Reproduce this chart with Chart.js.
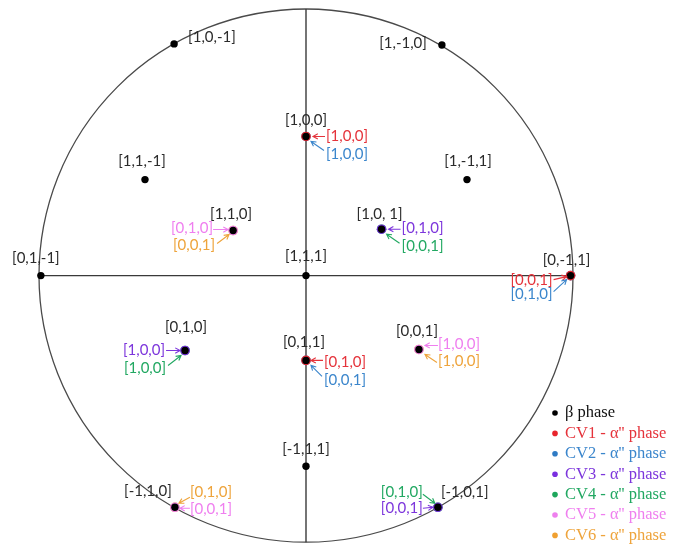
<!DOCTYPE html>
<html>
<head>
<meta charset="utf-8">
<title>β / α'' stereographic projection</title>
<script src="https://cdn.jsdelivr.net/npm/chart.js@4/dist/chart.umd.min.js"></script>
<style>
  html, body { margin: 0; padding: 0; background: #ffffff; }
  #wrap { width: 674px; height: 547px; }
</style>
</head>
<body>
<div id="wrap"><canvas id="chart" width="674" height="547"></canvas></div>
<script>
// ---- β phase poles (projection coordinates, unit circle = primitive) ----
const poleLabels = ['[1,0,-1]', '[1,-1,0]', '[1,0,0]', '[1,1,-1]', '[1,-1,1]', '[1,1,0]', '[1,0, 1]', '[0,1,-1]',
                    '[1,1,1]', '[0,-1,1]', '[0,1,0]', '[0,1,1]', '[0,0,1]', '[-1,1,1]', '[-1,1,0]', '[-1,0,1]'];
const poleX = [-0.494, 0.509, 0.000, -0.603, 0.603, -0.273, 0.283, -0.993,
                0.000, 0.991, -0.453, 0.000, 0.423, 0.000, -0.491, 0.494];
const poleY = [ 0.869, 0.865, 0.522, 0.360, 0.360, 0.169, 0.174, 0.000,
                0.000, 0.000, -0.281, -0.318, -0.277, -0.715, -0.869, -0.869];

// ---- α'' correspondence variants: β pole and the parallel α'' direction ----
const cv1Poles = ['[1,0,0]', '[0,-1,1]', '[0,1,1]'];
const cv1Dirs  = ['[1,0,0]', '[0,0,1]', '[0,1,0]'];
const cv2Poles = ['[1,0,0]', '[0,-1,1]', '[0,1,1]'];
const cv2Dirs  = ['[1,0,0]', '[0,1,0]', '[0,0,1]'];
const cv3Poles = ['[1,0, 1]', '[0,1,0]', '[-1,0,1]'];
const cv3Dirs  = ['[0,1,0]', '[1,0,0]', '[0,0,1]'];
const cv4Poles = ['[1,0, 1]', '[0,1,0]', '[-1,0,1]'];
const cv4Dirs  = ['[0,0,1]', '[1,0,0]', '[0,1,0]'];
const cv5Poles = ['[1,1,0]', '[0,0,1]', '[-1,1,0]'];
const cv5Dirs  = ['[0,1,0]', '[1,0,0]', '[0,0,1]'];
const cv6Poles = ['[1,1,0]', '[0,0,1]', '[-1,1,0]'];
const cv6Dirs  = ['[0,0,1]', '[1,0,0]', '[0,1,0]'];

const seriesNames = ['β phase', "CV1 - α'' phase", "CV2 - α'' phase", "CV3 - α'' phase",
                     "CV4 - α'' phase", "CV5 - α'' phase", "CV6 - α'' phase"];
const axisExtent = [-1, 1];

// ---- styling ----
const markColors = ['#000000', '#e8242c', '#2f7bc4', '#7a2ee0', '#1ea75c', '#ee80ee', '#f0a030'];
const textColors = ['#111111', '#e5333b', '#3b86cc', '#7d36dc', '#22a862', '#ef7fef', '#eea43c'];
const labelFont = '15px Lato, "Liberation Sans", sans-serif';
const legendFont = '16.5px "Liberation Serif", "DejaVu Serif", serif';

// pixel offsets of the black pole labels from their pole: [align, dx, dy]
const poleLabelPos = {
  '[1,0,-1]': ['left', 14, -7],   '[1,-1,0]': ['right', -15, -2], '[1,0,0]': ['center', 0, -16],
  '[1,1,-1]': ['center', -3, -18], '[1,-1,1]': ['center', 1, -18], '[1,1,0]': ['center', -2, -16],
  '[1,0, 1]': ['center', -2, -15], '[0,1,-1]': ['center', -5, -17], '[1,1,1]': ['center', 0, -19],
  '[0,-1,1]': ['center', -4, -15], '[0,1,0]': ['center', 1, -23], '[0,1,1]': ['center', -2, -18],
  '[0,0,1]': ['center', -2, -18], '[-1,1,1]': ['center', 0, -17], '[-1,1,0]': ['center', -27, -16],
  '[-1,0,1]': ['left', 3, -15]
};

// callout placement per variant and pole: [align, textDx, textDy, tailDx, tailDy, tipDx, tipDy]
const calloutPos = [
  null,
  { '[1,0,0]': ['left', 20, 0, 19, 0, 7, 0], '[0,-1,1]': ['right', -18, 5, -17, 4, -4, 1], '[0,1,1]': ['left', 18, 2, 17, 0, 5, 0] },
  { '[1,0,0]': ['left', 20, 18, 18, 14, 5, 5], '[0,-1,1]': ['right', -18, 19, -17, 16, -4, 4], '[0,1,1]': ['left', 18, 20, 16, 16, 5, 5] },
  { '[1,0, 1]': ['left', 20, -1, 19, 0, 7, 0], '[0,1,0]': ['right', -20, 0, -19, 0, -5, 0], '[-1,0,1]': ['right', -15, 1, -15, 1, -5, 0] },
  { '[1,0, 1]': ['left', 20, 17, 18, 14, 5, 5], '[0,1,0]': ['right', -19, 18, -17, 15, -4, 5], '[-1,0,1]': ['right', -15, -15, -15, -13, -3, -4] },
  { '[1,1,0]': ['right', -20, -2, -20, -1, -5, -1], '[0,0,1]': ['left', 19, -5, 19, -4, 6, -4], '[-1,1,0]': ['left', 15, 2, 15, 1, 5, 1] },
  { '[1,1,0]': ['right', -18, 15, -16, 13, -4, 4], '[0,0,1]': ['left', 19, 12, 18, 13, 6, 5], '[-1,1,0]': ['left', 15, -15, 15, -10, 4, -4] }
];

// ---- datasets ----
const cvPoles = [cv1Poles, cv2Poles, cv3Poles, cv4Poles, cv5Poles, cv6Poles];
const cvDirs  = [cv1Dirs, cv2Dirs, cv3Dirs, cv4Dirs, cv5Dirs, cv6Dirs];

function polePoint(label) {
  const i = poleLabels.indexOf(label);
  return { x: poleX[i], y: poleY[i], pole: label };
}

const datasets = [{
  label: seriesNames[0],
  data: poleLabels.map(polePoint),
  backgroundColor: markColors[0],
  borderColor: markColors[0],
  pointRadius: 3.7,
  borderWidth: 0,
  clip: false,
  order: 0
}];
cvPoles.forEach((poles, k) => {
  datasets.push({
    label: seriesNames[k + 1],
    data: poles.map((p, j) => Object.assign(polePoint(p), { dir: cvDirs[k][j] })),
    backgroundColor: markColors[k + 1],
    borderColor: markColors[k + 1],
    pointRadius: 4.8,
    borderWidth: 0,
    clip: false,
    order: 1 + k
  });
});
// reference axes through the centre of the projection
datasets.push({
  label: 'axisH', type: 'line', showLine: true, data: [{ x: axisExtent[0], y: 0 }, { x: axisExtent[1], y: 0 }],
  borderColor: '#3a3a3a', borderWidth: 1.4, pointRadius: 0, clip: false, order: 20
});
datasets.push({
  label: 'axisV', type: 'line', showLine: true, data: [{ x: 0, y: axisExtent[0] }, { x: 0, y: axisExtent[1] }],
  borderColor: '#3a3a3a', borderWidth: 1.4, pointRadius: 0, clip: false, order: 20
});

// primitive circle of the projection, sized by the scales
const primitiveCircle = {
  id: 'primitiveCircle',
  beforeDatasetsDraw(chart) {
    const { ctx, scales: { x, y } } = chart;
    const cx = x.getPixelForValue(0), cy = y.getPixelForValue(0);
    const rx = x.getPixelForValue(1) - cx;
    const ry = cy - y.getPixelForValue(1);
    ctx.save();
    ctx.strokeStyle = '#4a4a4a';
    ctx.lineWidth = 1.3;
    ctx.beginPath();
    ctx.ellipse(cx, cy, rx, ry, 0, 0, Math.PI * 2);
    ctx.stroke();
    ctx.restore();
  }
};

function drawArrow(ctx, x0, y0, x1, y1, color) {
  const a = Math.atan2(y1 - y0, x1 - x0);
  const h = 5.5, w = 0.5;
  ctx.strokeStyle = color;
  ctx.lineWidth = 1.1;
  ctx.beginPath();
  ctx.moveTo(x0, y0);
  ctx.lineTo(x1, y1);
  ctx.moveTo(x1 - h * Math.cos(a - w), y1 - h * Math.sin(a - w));
  ctx.lineTo(x1, y1);
  ctx.lineTo(x1 - h * Math.cos(a + w), y1 - h * Math.sin(a + w));
  ctx.stroke();
}

// pole labels and α'' direction callouts
const poleAnnotations = {
  id: 'poleAnnotations',
  afterDatasetsDraw(chart) {
    const { ctx, scales: { x, y } } = chart;
    ctx.save();
    ctx.font = labelFont;
    ctx.textBaseline = 'middle';
    poleLabels.forEach((lab, i) => {
      const px = x.getPixelForValue(poleX[i]), py = y.getPixelForValue(poleY[i]);
      const [align, dx, dy] = poleLabelPos[lab];
      ctx.fillStyle = '#2b2b2b';
      ctx.textAlign = align;
      ctx.fillText(lab, px + dx, py + dy);
    });
    for (let k = 1; k <= 6; k++) {
      chart.data.datasets[k].data.forEach(pt => {
        const px = x.getPixelForValue(pt.x), py = y.getPixelForValue(pt.y);
        const [align, tdx, tdy, ax0, ay0, ax1, ay1] = calloutPos[k][pt.pole];
        ctx.fillStyle = textColors[k];
        ctx.textAlign = align;
        ctx.fillText(pt.dir, px + tdx, py + tdy);
        drawArrow(ctx, px + ax0, py + ay0, px + ax1, py + ay1, textColors[k]);
      });
    }
    ctx.restore();
  }
};

// legend in the lower right corner
const cornerLegend = {
  id: 'cornerLegend',
  afterDraw(chart) {
    const { ctx } = chart;
    const x0 = 555, y0 = 413, step = 20.4;
    ctx.save();
    ctx.font = legendFont;
    ctx.textBaseline = 'middle';
    ctx.textAlign = 'left';
    seriesNames.forEach((name, i) => {
      const yy = y0 + i * step;
      ctx.fillStyle = markColors[i];
      ctx.beginPath();
      ctx.arc(x0, yy, 2.8, 0, Math.PI * 2);
      ctx.fill();
      ctx.fillStyle = textColors[i];
      ctx.fillText(name, x0 + 10, yy);
    });
    ctx.restore();
  }
};

new Chart(document.getElementById('chart'), {
  type: 'scatter',
  data: { datasets },
  options: {
    responsive: false,
    animation: false,
    layout: { padding: { left: 39, right: 101, top: 9, bottom: 4 } },
    scales: {
      x: { type: 'linear', min: -1, max: 1, display: false },
      y: { type: 'linear', min: -1, max: 1, display: false }
    },
    plugins: { legend: { display: false }, tooltip: { enabled: false } }
  },
  plugins: [primitiveCircle, poleAnnotations, cornerLegend]
});
</script>
</body>
</html>
